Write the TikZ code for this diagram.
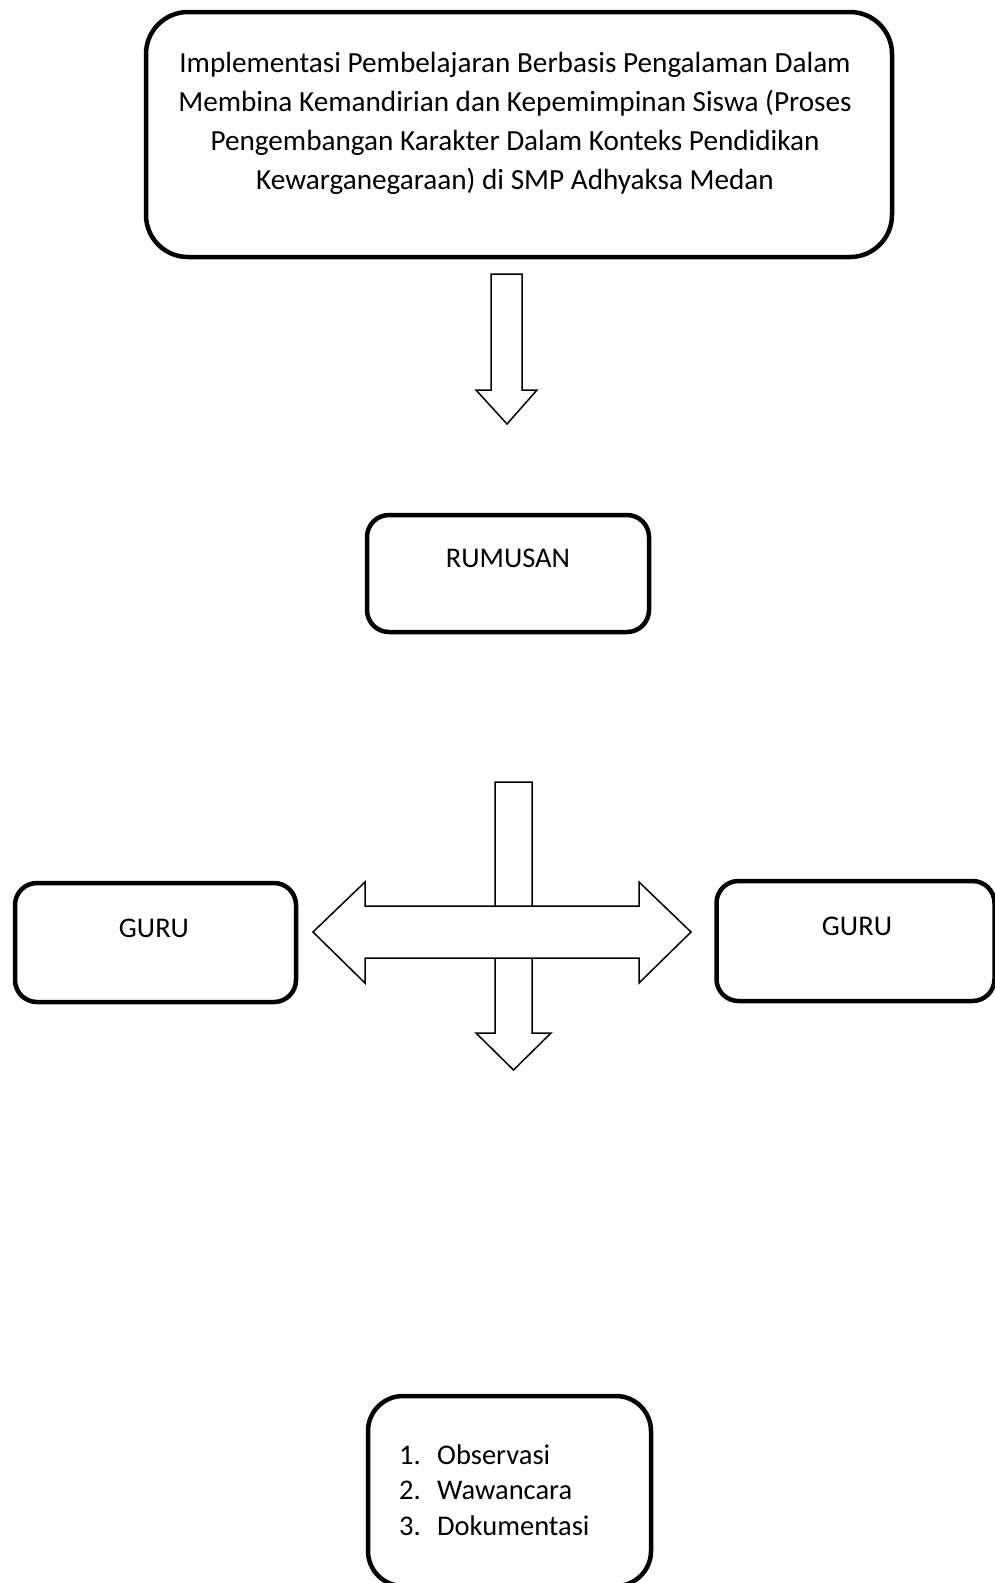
\documentclass[tikz,border=0pt]{standalone}
\usepackage{fontspec}
\setmainfont{Carlito}
\usetikzlibrary{shapes}
\tikzstyle{kotak}=[rectangle,draw=black,line width=4.5pt,rounded corners=22pt,inner sep=0pt]
\tikzstyle{teks}=[font=\fontsize{28.5}{39}\selectfont,align=center,inner sep=0pt]
\tikzstyle{panah}=[draw=black,fill=white,line width=1.5pt,line join=miter]

\begin{document}
\begin{tikzpicture}[x=1pt,y=-1pt]
\useasboundingbox (0,0) rectangle (995,1583);
% judul
\node[kotak,rounded corners=42pt,minimum width=746pt,minimum height=245pt] (judul) at (519,134.5) {};
\node[teks,font=\fontsize{29.2}{39}\selectfont] (judulteks) at (515,123) {Implementasi Pembelajaran Berbasis Pengalaman Dalam\\
Membina Kemandirian dan Kepemimpinan Siswa (Proses\\
Pengembangan Karakter Dalam Konteks Pendidikan\\
Kewarganegaraan) di SMP Adhyaksa Medan};
\draw[panah] (491,274) -- (522,274) -- (522,390) -- (537,390) -- (507,424) -- (476,390) -- (491,390) -- cycle;
% rumusan
\node[kotak,minimum width=282pt,minimum height=117pt] (rumusan) at (508,573.5) {};
\node[teks] (rumusanteks) at (508,558) {RUMUSAN};
% panah silang
\draw[panah] (495,782) -- (532,782) -- (532,1033) -- (551,1033) -- (513.5,1070) -- (476,1033) -- (495,1033) -- cycle;
\draw[panah] (313,932) -- (365,882) -- (365,906) -- (639,906) -- (639,882) -- (691,932) -- (639,983) -- (639,958) -- (365,958) -- (365,983) -- cycle;
% guru
\node[kotak,minimum width=281pt,minimum height=119pt] (gurukiri) at (155.5,942.5) {};
\node[teks] (gurukiriteks) at (154,928) {GURU};
\node[kotak,minimum width=278pt,minimum height=120pt] (gurukanan) at (855.5,941) {};
\node[teks] (gurukananteks) at (857,926) {GURU};
% metode
\node[kotak,rounded corners=35pt,minimum width=283pt,minimum height=190pt] (metode) at (509.5,1491) {};
\node[teks,font=\fontsize{28.5}{35.5}\selectfont,align=left,anchor=west] (metodeteks) at (399,1490) {\makebox[38pt][l]{1.}Observasi\\
\makebox[38pt][l]{2.}Wawancara\\
\makebox[38pt][l]{3.}Dokumentasi};
\end{tikzpicture}
\end{document}
